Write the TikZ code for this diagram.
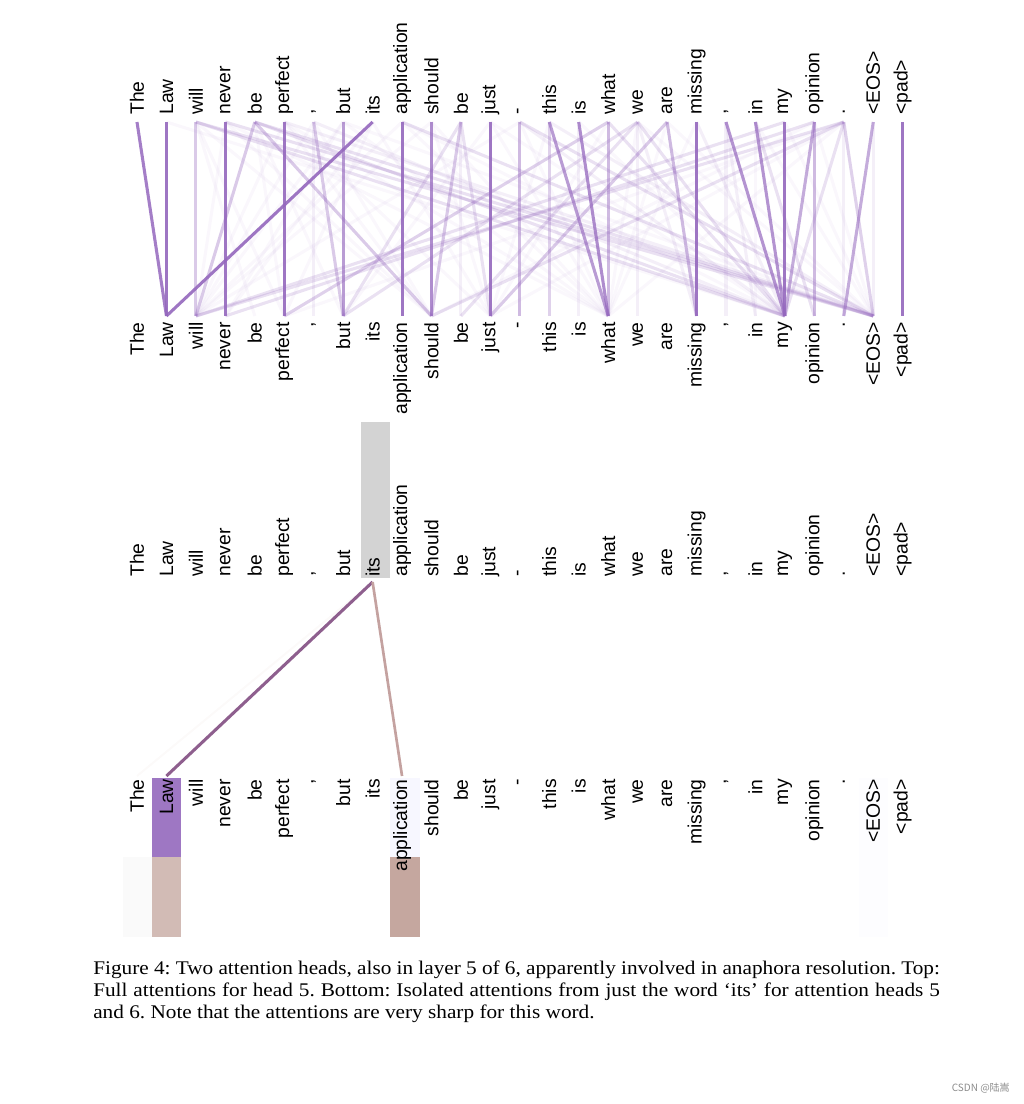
\documentclass[tikz,border=0pt]{standalone}
\usepackage{fontspec}
\setmainfont{Liberation Serif}
\setsansfont{Liberation Sans}
\newfontfamily\cjkfont{Noto Sans CJK SC}
\newfontfamily\capfont[FakeStretch=1.1,Ligatures=TeX]{Liberation Serif}
\usepackage{tikz}
\usetikzlibrary{positioning}
\definecolor{attpurple}{HTML}{9467BD}
\definecolor{lawbox}{HTML}{9E77C3}
\definecolor{headmix}{HTML}{8E5F8E}
\definecolor{headbrown}{HTML}{C4A2A0}
\definecolor{lawbrown}{HTML}{D2BBB5}
\definecolor{appbrown}{HTML}{C5A79F}
\definecolor{itsgray}{HTML}{D3D3D3}
\tikzset{
  tok/.style={inner sep=0pt,rotate=90,font=\sffamily\fontsize{14.5}{16}\selectfont},
  att/.style={attpurple,line width=2.3pt},
}

\begin{document}
\begin{tikzpicture}[x=0.75pt,y=-0.75pt]
\useasboundingbox (0,0) rectangle (1024,1104);
\fill[itsgray] (361,422) rectangle (390,578);
\fill[lawbox] (152,778) rectangle (181.2,857);
\fill[lawbrown] (152,857) rectangle (181.2,937);
\fill[appbrown] (390,857) rectangle (419.5,937);
\fill[black!2] (122.5,857) rectangle (152,937);
\fill[blue!3] (390,778) rectangle (419.5,857);
\fill[blue!0.8] (859,778) rectangle (888,937);
\foreach \w [count=\i from 0] in {The,Law,will,never,be,perfect,{,},but,its,application,should,be,just,-,this,is,what,we,are,missing,{,},in,my,opinion,.,<EOS>,<pad>}{
  \coordinate (u\i) at (137+29.45*\i,122);
  \coordinate (d\i) at (137+29.45*\i,316);
  \coordinate (m\i) at (137+29.45*\i,582);
  \coordinate (n\i) at (137+29.45*\i,776);
  \node[tok,anchor=west] (tu\i) at (137+29.45*\i,115) {\w};
  \node[tok,anchor=east] (td\i) at (137+29.45*\i,322) {\w};
  \node[tok,anchor=west] (tm\i) at (137+29.45*\i,577) {\w};
  \node[tok,anchor=east] (tn\i) at (137+29.45*\i,779) {\w};
}
\foreach \a/\b in {2/4,2/5,2/10,3/2,4/5,4/7,5/2,5/10,6/2,6/10,7/2,7/3,7/25,8/3,8/5,9/2,9/22,10/2,10/12,12/7,12/22,13/2,13/16,14/12,15/22,16/12,17/16,17/25,18/16,18/25,19/16,21/21,21/25,22/25,23/25,24/12,24/16,23/10,24/5,3/16,5/16,7/16,9/16,10/16,12/16,1/22,3/10,5/12,8/12}
  \draw[att,draw opacity=0.05] (u\a) -- (d\b);
\foreach \a/\b in {6/6,25/25,24/24,20/21,17/17,5/25,14/25,6/22,13/22,19/22,17/19,15/15,11/11,20/20}
  \draw[att,draw opacity=0.1] (u\a) -- (d\b);
\foreach \a/\b in {2/25,3/25,4/25,2/22,4/22,11/7,11/12,24/22,21/23,17/11,24/2,23/3,22/2,13/25,17/22,16/22,24/10,17/7,9/25}
  \draw[att,draw opacity=0.2] (u\a) -- (d\b);
\foreach \a/\b/\o in {2/2/0.35,6/7/0.35,4/2/0.35,4/10/0.35,11/10/0.35,18/12/0.35,14/14/0.3,24/25/0.3,16/5/0.3,
  13/13/0.45,16/16/0.45,23/23/0.45,18/19/0.45,25/24/0.55,23/22/0.55,
  7/7/0.65,14/16/0.65,20/22/0.7,21/22/0.7,10/10/0.75,15/16/0.75,
  0/1/0.85,1/1/0.9,3/3/0.9,5/5/0.9,8/1/0.9,9/9/0.9,12/12/0.9,19/19/0.9,22/22/0.9,26/26/0.9}
  \draw[att,draw opacity=\o] (u\a) -- (d\b);
\draw[headbrown,line width=1.5pt,draw opacity=0.06] (m8) -- (n0);
\draw[headmix,line width=2.3pt] (m8) -- (n1);
\draw[headbrown,line width=2pt] (m8) -- (n9);
\node[anchor=north west,inner sep=0pt,text width=635pt,align=justify,
  font=\capfont\fontsize{14.5}{16.2}\selectfont\frenchspacing] (cap) at (93,961)
  {Figure 4: Two attention heads, also in layer 5 of 6, apparently involved in anaphora resolution. Top:\linebreak
  Full attentions for head 5. Bottom: Isolated attentions from just the word ‘its’ for attention heads 5\linebreak
  and 6. Note that the attentions are very sharp for this word.};
\node[anchor=east,inner sep=0pt,text=black!45,font=\cjkfont\fontsize{7.5}{9}\selectfont] (mark) at (1010,1088) {CSDN @陆嵩};
\end{tikzpicture}
\end{document}
